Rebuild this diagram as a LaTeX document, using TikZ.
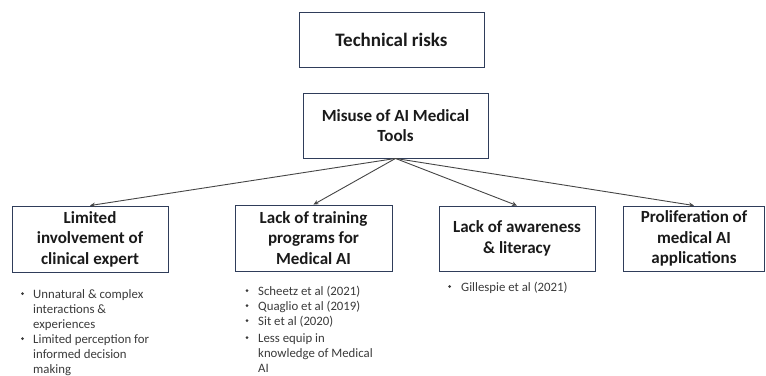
\documentclass[tikz,border=0pt]{standalone}
\usepackage{fontspec}
\setmainfont{Carlito}
\usetikzlibrary{arrows.meta}
\definecolor{boxline}{HTML}{2F3D5A}
\definecolor{arrowc}{HTML}{454545}
\definecolor{txt}{HTML}{1A1A1A}
\definecolor{btxt}{HTML}{3A3A3A}
\tikzset{
  box/.style={draw=boxline, line width=0.9pt, fill=white, align=center, inner sep=0pt,
    font=\fontsize{17}{20.5}\selectfont\bfseries, text=txt},
  conn/.style={draw=arrowc, line width=0.9pt, -{Stealth[length=5pt,width=4.5pt]}},
  bul/.style={anchor=base west, inner sep=0pt, font=\fontsize{12.8}{15}\selectfont, text=btxt, align=left},
  dot/.style={circle, fill=btxt, inner sep=0pt, minimum size=3pt}
}
\begin{document}
\begin{tikzpicture}[x=1pt,y=-1pt]
\useasboundingbox (0,0) rectangle (766,375);
\node[box, minimum width=185pt, minimum height=55pt, font=\fontsize{19}{22}\selectfont\bfseries] (t) at (391.5,39.5) {Technical risks};
\node[box, minimum width=185pt, minimum height=65pt] (m) at (395.5,125.5) {Misuse of AI Medical\\Tools};
\node[box, minimum width=156pt, minimum height=66pt] (b1) at (90,239) {Limited\\involvement of\\clinical expert};
\node[box, minimum width=157pt, minimum height=66pt] (b2) at (313.5,238) {Lack of training\\programs for\\Medical AI};
\node[box, minimum width=156pt, minimum height=65pt] (b3) at (517,238.5) {Lack of awareness\\\& literacy};
\node[box, minimum width=141pt, minimum height=65pt] (b4) at (694,238.5) {Proliferation of\\medical AI\\applications};
\draw[conn] (m.south) -- (b1.north);
\draw[conn] (m.south) -- (b2.north);
\draw[conn] (m.south) -- (b3.north);
\draw[conn] (m.south) -- (b4.north);
% bullets under box 1 (anchor = baseline of last line)
\node[dot] (d11) at (22.5,293.5) {};
\node[bul] (l11) at (33,328) {Unnatural \& complex\\interactions \&\\experiences};
\node[dot] (d12) at (22.5,338.5) {};
\node[bul] (l12) at (33,373) {Limited perception for\\informed decision\\making};
% bullets under box 2
\node[dot] (d21) at (247,290.5) {};
\node[bul] (l21) at (258,295) {Scheetz et al (2021)};
\node[dot] (d22) at (247,305.5) {};
\node[bul] (l22) at (258,310) {Quaglio et al (2019)};
\node[dot] (d23) at (247,320.5) {};
\node[bul] (l23) at (258,325) {Sit et al (2020)};
\node[dot] (d24) at (247,337.5) {};
\node[bul] (l24) at (258,372) {Less equip in\\knowledge of Medical\\AI};
% bullet under box 3
\node[dot] (d31) at (449.5,286.5) {};
\node[bul] (l31) at (461,291) {Gillespie et al (2021)};
\end{tikzpicture}
\end{document}
